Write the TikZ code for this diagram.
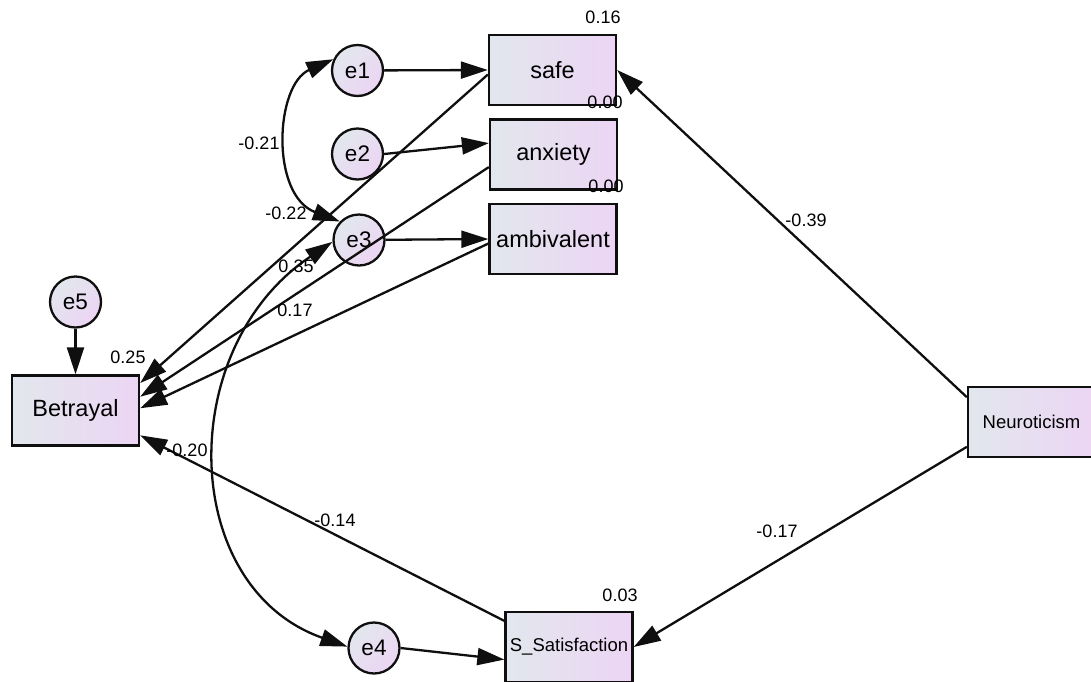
\documentclass[tikz,border=0pt]{standalone}
\usepackage{fontspec}
\setmainfont{Liberation Sans}
\usetikzlibrary{arrows.meta}
\definecolor{boxL}{RGB}{226,231,237}
\definecolor{boxR}{RGB}{236,213,244}
\definecolor{edge}{RGB}{15,15,15}
\begin{document}
\begin{tikzpicture}[x=1pt,y=-1pt,
  obs/.style={draw=edge, line width=2.3pt, left color=boxL, right color=boxR,
    minimum width=127pt, minimum height=70pt, inner sep=0pt,
    font=\fontsize{23.5}{26}\selectfont},
  obssm/.style={obs, font=\fontsize{18.5}{21}\selectfont},
  err/.style={circle, draw=edge, line width=2.3pt, left color=boxL, right color=boxR,
    shading angle=45, minimum size=51pt, inner sep=0pt,
    font=\fontsize{22.5}{25}\selectfont},
  lbl/.style={inner sep=0pt, font=\fontsize{18}{20}\selectfont},
  tip/.tip={Triangle[length=27pt,width=17pt]},
  pth/.style={line width=2.3pt, draw=edge, -tip},
  cov/.style={line width=2.3pt, draw=edge, tip-tip}]
\useasboundingbox (0,0) rectangle (1091,681);
% observed variables
\node[obs] (safe) at (552.5,70) {safe};
\node[obs] (anx) at (553.5,154.5) {anxiety};
\node[obs] (amb) at (553,239) {ambivalent};
\node[obs] (bet) at (75.5,410.5) {Betrayal};
\node[obssm] (neu) at (1031.5,422) {Neuroticism};
\node[obssm] (sat) at (569,647) {S\_Satisfaction};
% error terms
\node[err] (e1) at (357.5,70.5) {e1};
\node[err] (e2) at (357.5,154) {e2};
\node[err] (e3) at (359,240) {e3};
\node[err] (e4) at (374,648) {e4};
\node[err] (e5) at (75.5,302) {e5};
% paths
\draw[pth] (e1) -- (safe.west);
\draw[pth] (e2.east) -- (anx.170);
\draw[pth] (e3) -- (amb.west);
\draw[pth] (e4.east) -- (sat.191);
\draw[pth] (e5) -- (bet);
\draw[pth] (safe.184) -- (bet.23);
\draw[pth] (anx.191) -- (bet.12);
\draw[pth] (amb.184) -- (bet.2);
\draw[pth] (sat.158) -- (bet.-21);
\draw[pth] (neu.159) -- (safe.east);
\draw[pth] (neu.201) -- (sat.east);
% covariances
\draw[cov] (e1.155) .. controls (275,85) and (270,195) .. (e3.136);
\draw[cov] (e3.184) .. controls (174,348) and (178.8,587.3) .. (e4.177);
% labels
\node[lbl] (l1) at (603,17) {0.16};
\node[lbl] (l2) at (605,102) {0.00};
\node[lbl] (l3) at (606,186) {0.00};
\node[lbl] (l4) at (259,143) {-0.21};
\node[lbl] (l5) at (286,213) {-0.22};
\node[lbl] (l6) at (296,266) {0.35};
\node[lbl] (l7) at (295,310) {0.17};
\node[lbl] (l8) at (128,357) {0.25};
\node[lbl] (l9) at (187,450) {-0.20};
\node[lbl] (l10) at (335,520) {-0.14};
\node[lbl] (l11) at (620,595) {0.03};
\node[lbl] (l12) at (806,220) {-0.39};
\node[lbl] (l13) at (777,531) {-0.17};
\end{tikzpicture}
\end{document}
